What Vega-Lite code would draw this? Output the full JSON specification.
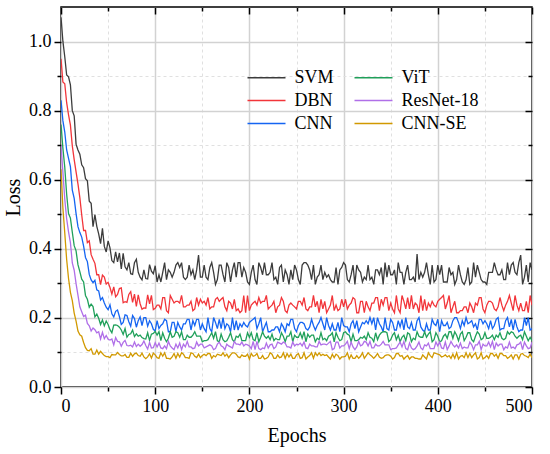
{
"$schema": "https://vega.github.io/schema/vega-lite/v6.json",
"width": 471, "height": 380,
"autosize": {"type": "none"},
"padding": {"left": 61, "top": 7, "right": 18, "bottom": 67},
"background": "white",
"config": {"font": "Liberation Serif", "view": {"stroke": "black", "strokeWidth": 1.5}},
"data": {"values": [
{"epoch":0,"SVM":1.07,"DBN":0.95,"CNN":0.83,"ViT":0.76,"ResNet-18":0.70,"CNN-SE":0.63},
{"epoch":2,"SVM":1.001,"DBN":0.883,"CNN":0.771,"ViT":0.692,"ResNet-18":0.623,"CNN-SE":0.519},
{"epoch":4,"SVM":0.956,"DBN":0.878,"CNN":0.738,"ViT":0.636,"ResNet-18":0.544,"CNN-SE":0.446},
{"epoch":6,"SVM":0.903,"DBN":0.823,"CNN":0.686,"ViT":0.558,"ResNet-18":0.487,"CNN-SE":0.369},
{"epoch":8,"SVM":0.898,"DBN":0.788,"CNN":0.662,"ViT":0.502,"ResNet-18":0.449,"CNN-SE":0.314},
{"epoch":10,"SVM":0.875,"DBN":0.758,"CNN":0.638,"ViT":0.489,"ResNet-18":0.418,"CNN-SE":0.274},
{"epoch":12,"SVM":0.80,"DBN":0.698,"CNN":0.57,"ViT":0.448,"ResNet-18":0.359,"CNN-SE":0.25},
{"epoch":14,"SVM":0.785,"DBN":0.658,"CNN":0.546,"ViT":0.409,"ResNet-18":0.338,"CNN-SE":0.214},
{"epoch":16,"SVM":0.703,"DBN":0.623,"CNN":0.502,"ViT":0.394,"ResNet-18":0.299,"CNN-SE":0.191},
{"epoch":18,"SVM":0.686,"DBN":0.588,"CNN":0.464,"ViT":0.354,"ResNet-18":0.266,"CNN-SE":0.162},
{"epoch":20,"SVM":0.674,"DBN":0.548,"CNN":0.447,"ViT":0.334,"ResNet-18":0.232,"CNN-SE":0.151},
{"epoch":22,"SVM":0.643,"DBN":0.498,"CNN":0.434,"ViT":0.312,"ResNet-18":0.218,"CNN-SE":0.147},
{"epoch":24,"SVM":0.635,"DBN":0.453,"CNN":0.408,"ViT":0.304,"ResNet-18":0.204,"CNN-SE":0.129},
{"epoch":26,"SVM":0.603,"DBN":0.453,"CNN":0.375,"ViT":0.265,"ResNet-18":0.208,"CNN-SE":0.114},
{"epoch":28,"SVM":0.597,"DBN":0.418,"CNN":0.363,"ViT":0.254,"ResNet-18":0.184,"CNN-SE":0.106},
{"epoch":30,"SVM":0.538,"DBN":0.423,"CNN":0.326,"ViT":0.231,"ResNet-18":0.177,"CNN-SE":0.105},
{"epoch":32,"SVM":0.532,"DBN":0.383,"CNN":0.31,"ViT":0.24,"ResNet-18":0.162,"CNN-SE":0.111},
{"epoch":34,"SVM":0.464,"DBN":0.37,"CNN":0.302,"ViT":0.233,"ResNet-18":0.171,"CNN-SE":0.095},
{"epoch":36,"SVM":0.499,"DBN":0.358,"CNN":0.309,"ViT":0.203,"ResNet-18":0.166,"CNN-SE":0.095},
{"epoch":38,"SVM":0.465,"DBN":0.325,"CNN":0.281,"ViT":0.211,"ResNet-18":0.157,"CNN-SE":0.107},
{"epoch":40,"SVM":0.443,"DBN":0.325,"CNN":0.278,"ViT":0.199,"ResNet-18":0.16,"CNN-SE":0.095},
{"epoch":42,"SVM":0.415,"DBN":0.296,"CNN":0.252,"ViT":0.181,"ResNet-18":0.139,"CNN-SE":0.103},
{"epoch":44,"SVM":0.459,"DBN":0.324,"CNN":0.259,"ViT":0.194,"ResNet-18":0.158,"CNN-SE":0.097},
{"epoch":46,"SVM":0.407,"DBN":0.318,"CNN":0.243,"ViT":0.177,"ResNet-18":0.14,"CNN-SE":0.091},
{"epoch":48,"SVM":0.391,"DBN":0.298,"CNN":0.231,"ViT":0.191,"ResNet-18":0.149,"CNN-SE":0.088},
{"epoch":50,"SVM":0.423,"DBN":0.303,"CNN":0.224,"ViT":0.181,"ResNet-18":0.138,"CNN-SE":0.088},
{"epoch":52,"SVM":0.403,"DBN":0.288,"CNN":0.238,"ViT":0.166,"ResNet-18":0.136,"CNN-SE":0.085},
{"epoch":54,"SVM":0.366,"DBN":0.269,"CNN":0.212,"ViT":0.157,"ResNet-18":0.139,"CNN-SE":0.094},
{"epoch":56,"SVM":0.36,"DBN":0.29,"CNN":0.203,"ViT":0.179,"ResNet-18":0.122,"CNN-SE":0.093},
{"epoch":58,"SVM":0.391,"DBN":0.261,"CNN":0.219,"ViT":0.18,"ResNet-18":0.143,"CNN-SE":0.093},
{"epoch":60,"SVM":0.362,"DBN":0.268,"CNN":0.223,"ViT":0.178,"ResNet-18":0.132,"CNN-SE":0.1},
{"epoch":62,"SVM":0.388,"DBN":0.285,"CNN":0.204,"ViT":0.173,"ResNet-18":0.131,"CNN-SE":0.094},
{"epoch":64,"SVM":0.342,"DBN":0.287,"CNN":0.181,"ViT":0.165,"ResNet-18":0.118,"CNN-SE":0.09},
{"epoch":66,"SVM":0.387,"DBN":0.244,"CNN":0.187,"ViT":0.152,"ResNet-18":0.129,"CNN-SE":0.09},
{"epoch":68,"SVM":0.348,"DBN":0.247,"CNN":0.209,"ViT":0.169,"ResNet-18":0.135,"CNN-SE":0.094},
{"epoch":70,"SVM":0.339,"DBN":0.245,"CNN":0.207,"ViT":0.144,"ResNet-18":0.12,"CNN-SE":0.086},
{"epoch":72,"SVM":0.36,"DBN":0.268,"CNN":0.189,"ViT":0.152,"ResNet-18":0.119,"CNN-SE":0.086},
{"epoch":74,"SVM":0.328,"DBN":0.276,"CNN":0.176,"ViT":0.154,"ResNet-18":0.121,"CNN-SE":0.098},
{"epoch":76,"SVM":0.326,"DBN":0.245,"CNN":0.207,"ViT":0.165,"ResNet-18":0.116,"CNN-SE":0.089},
{"epoch":78,"SVM":0.36,"DBN":0.269,"CNN":0.198,"ViT":0.146,"ResNet-18":0.13,"CNN-SE":0.096},
{"epoch":80,"SVM":0.37,"DBN":0.233,"CNN":0.173,"ViT":0.154,"ResNet-18":0.117,"CNN-SE":0.098},
{"epoch":82,"SVM":0.332,"DBN":0.267,"CNN":0.192,"ViT":0.147,"ResNet-18":0.124,"CNN-SE":0.091},
{"epoch":84,"SVM":0.318,"DBN":0.241,"CNN":0.203,"ViT":0.15,"ResNet-18":0.118,"CNN-SE":0.089},
{"epoch":86,"SVM":0.31,"DBN":0.225,"CNN":0.178,"ViT":0.143,"ResNet-18":0.123,"CNN-SE":0.098},
{"epoch":88,"SVM":0.339,"DBN":0.229,"CNN":0.201,"ViT":0.14,"ResNet-18":0.133,"CNN-SE":0.087},
{"epoch":90,"SVM":0.314,"DBN":0.228,"CNN":0.201,"ViT":0.139,"ResNet-18":0.12,"CNN-SE":0.082},
{"epoch":92,"SVM":0.313,"DBN":0.267,"CNN":0.176,"ViT":0.157,"ResNet-18":0.11,"CNN-SE":0.087},
{"epoch":94,"SVM":0.354,"DBN":0.241,"CNN":0.192,"ViT":0.135,"ResNet-18":0.129,"CNN-SE":0.096},
{"epoch":96,"SVM":0.335,"DBN":0.265,"CNN":0.183,"ViT":0.153,"ResNet-18":0.113,"CNN-SE":0.084},
{"epoch":98,"SVM":0.328,"DBN":0.224,"CNN":0.167,"ViT":0.155,"ResNet-18":0.114,"CNN-SE":0.098},
{"epoch":100,"SVM":0.351,"DBN":0.228,"CNN":0.162,"ViT":0.161,"ResNet-18":0.128,"CNN-SE":0.093},
{"epoch":102,"SVM":0.304,"DBN":0.237,"CNN":0.192,"ViT":0.15,"ResNet-18":0.116,"CNN-SE":0.085},
{"epoch":104,"SVM":0.325,"DBN":0.237,"CNN":0.169,"ViT":0.16,"ResNet-18":0.127,"CNN-SE":0.083},
{"epoch":106,"SVM":0.304,"DBN":0.226,"CNN":0.178,"ViT":0.134,"ResNet-18":0.113,"CNN-SE":0.099},
{"epoch":108,"SVM":0.332,"DBN":0.259,"CNN":0.183,"ViT":0.157,"ResNet-18":0.111,"CNN-SE":0.089},
{"epoch":110,"SVM":0.36,"DBN":0.259,"CNN":0.196,"ViT":0.141,"ResNet-18":0.119,"CNN-SE":0.099},
{"epoch":112,"SVM":0.311,"DBN":0.221,"CNN":0.192,"ViT":0.131,"ResNet-18":0.111,"CNN-SE":0.083},
{"epoch":114,"SVM":0.339,"DBN":0.215,"CNN":0.16,"ViT":0.141,"ResNet-18":0.132,"CNN-SE":0.083},
{"epoch":116,"SVM":0.332,"DBN":0.265,"CNN":0.16,"ViT":0.16,"ResNet-18":0.119,"CNN-SE":0.081},
{"epoch":118,"SVM":0.318,"DBN":0.254,"CNN":0.187,"ViT":0.144,"ResNet-18":0.113,"CNN-SE":0.087},
{"epoch":120,"SVM":0.332,"DBN":0.243,"CNN":0.187,"ViT":0.147,"ResNet-18":0.108,"CNN-SE":0.097},
{"epoch":122,"SVM":0.353,"DBN":0.248,"CNN":0.16,"ViT":0.16,"ResNet-18":0.124,"CNN-SE":0.083},
{"epoch":124,"SVM":0.36,"DBN":0.248,"CNN":0.187,"ViT":0.157,"ResNet-18":0.113,"CNN-SE":0.097},
{"epoch":126,"SVM":0.346,"DBN":0.243,"CNN":0.174,"ViT":0.144,"ResNet-18":0.127,"CNN-SE":0.087},
{"epoch":128,"SVM":0.36,"DBN":0.265,"CNN":0.165,"ViT":0.16,"ResNet-18":0.108,"CNN-SE":0.099},
{"epoch":130,"SVM":0.318,"DBN":0.232,"CNN":0.183,"ViT":0.137,"ResNet-18":0.124,"CNN-SE":0.095},
{"epoch":132,"SVM":0.311,"DBN":0.232,"CNN":0.183,"ViT":0.137,"ResNet-18":0.116,"CNN-SE":0.085},
{"epoch":134,"SVM":0.318,"DBN":0.237,"CNN":0.196,"ViT":0.15,"ResNet-18":0.132,"CNN-SE":0.085},
{"epoch":136,"SVM":0.353,"DBN":0.237,"CNN":0.196,"ViT":0.144,"ResNet-18":0.116,"CNN-SE":0.083},
{"epoch":138,"SVM":0.325,"DBN":0.248,"CNN":0.165,"ViT":0.144,"ResNet-18":0.116,"CNN-SE":0.099},
{"epoch":140,"SVM":0.339,"DBN":0.221,"CNN":0.192,"ViT":0.15,"ResNet-18":0.111,"CNN-SE":0.097},
{"epoch":142,"SVM":0.311,"DBN":0.226,"CNN":0.178,"ViT":0.16,"ResNet-18":0.113,"CNN-SE":0.089},
{"epoch":144,"SVM":0.339,"DBN":0.259,"CNN":0.196,"ViT":0.147,"ResNet-18":0.13,"CNN-SE":0.085},
{"epoch":146,"SVM":0.382,"DBN":0.237,"CNN":0.196,"ViT":0.147,"ResNet-18":0.119,"CNN-SE":0.095},
{"epoch":148,"SVM":0.318,"DBN":0.254,"CNN":0.165,"ViT":0.147,"ResNet-18":0.124,"CNN-SE":0.085},
{"epoch":150,"SVM":0.318,"DBN":0.243,"CNN":0.183,"ViT":0.131,"ResNet-18":0.124,"CNN-SE":0.091},
{"epoch":152,"SVM":0.353,"DBN":0.248,"CNN":0.169,"ViT":0.134,"ResNet-18":0.113,"CNN-SE":0.095},
{"epoch":154,"SVM":0.318,"DBN":0.237,"CNN":0.16,"ViT":0.134,"ResNet-18":0.116,"CNN-SE":0.091},
{"epoch":156,"SVM":0.311,"DBN":0.259,"CNN":0.201,"ViT":0.137,"ResNet-18":0.119,"CNN-SE":0.097},
{"epoch":158,"SVM":0.346,"DBN":0.226,"CNN":0.169,"ViT":0.147,"ResNet-18":0.122,"CNN-SE":0.097},
{"epoch":160,"SVM":0.36,"DBN":0.232,"CNN":0.16,"ViT":0.157,"ResNet-18":0.119,"CNN-SE":0.083},
{"epoch":162,"SVM":0.332,"DBN":0.232,"CNN":0.201,"ViT":0.141,"ResNet-18":0.108,"CNN-SE":0.091},
{"epoch":164,"SVM":0.297,"DBN":0.254,"CNN":0.187,"ViT":0.16,"ResNet-18":0.111,"CNN-SE":0.087},
{"epoch":166,"SVM":0.311,"DBN":0.259,"CNN":0.169,"ViT":0.134,"ResNet-18":0.124,"CNN-SE":0.095},
{"epoch":168,"SVM":0.353,"DBN":0.248,"CNN":0.196,"ViT":0.131,"ResNet-18":0.13,"CNN-SE":0.093},
{"epoch":170,"SVM":0.353,"DBN":0.254,"CNN":0.169,"ViT":0.153,"ResNet-18":0.119,"CNN-SE":0.091},
{"epoch":172,"SVM":0.325,"DBN":0.259,"CNN":0.201,"ViT":0.137,"ResNet-18":0.116,"CNN-SE":0.099},
{"epoch":174,"SVM":0.304,"DBN":0.232,"CNN":0.169,"ViT":0.131,"ResNet-18":0.108,"CNN-SE":0.089},
{"epoch":176,"SVM":0.36,"DBN":0.221,"CNN":0.183,"ViT":0.134,"ResNet-18":0.124,"CNN-SE":0.095},
{"epoch":178,"SVM":0.346,"DBN":0.248,"CNN":0.178,"ViT":0.144,"ResNet-18":0.119,"CNN-SE":0.085},
{"epoch":180,"SVM":0.304,"DBN":0.243,"CNN":0.16,"ViT":0.157,"ResNet-18":0.116,"CNN-SE":0.093},
{"epoch":182,"SVM":0.339,"DBN":0.226,"CNN":0.201,"ViT":0.137,"ResNet-18":0.113,"CNN-SE":0.099},
{"epoch":184,"SVM":0.36,"DBN":0.254,"CNN":0.165,"ViT":0.131,"ResNet-18":0.132,"CNN-SE":0.099},
{"epoch":186,"SVM":0.318,"DBN":0.221,"CNN":0.192,"ViT":0.147,"ResNet-18":0.124,"CNN-SE":0.095},
{"epoch":188,"SVM":0.36,"DBN":0.226,"CNN":0.165,"ViT":0.144,"ResNet-18":0.124,"CNN-SE":0.087},
{"epoch":190,"SVM":0.36,"DBN":0.215,"CNN":0.183,"ViT":0.153,"ResNet-18":0.122,"CNN-SE":0.085},
{"epoch":192,"SVM":0.318,"DBN":0.221,"CNN":0.174,"ViT":0.134,"ResNet-18":0.13,"CNN-SE":0.093},
{"epoch":194,"SVM":0.346,"DBN":0.265,"CNN":0.187,"ViT":0.134,"ResNet-18":0.119,"CNN-SE":0.089},
{"epoch":196,"SVM":0.332,"DBN":0.215,"CNN":0.178,"ViT":0.134,"ResNet-18":0.124,"CNN-SE":0.089},
{"epoch":198,"SVM":0.304,"DBN":0.265,"CNN":0.174,"ViT":0.157,"ResNet-18":0.122,"CNN-SE":0.095},
{"epoch":200,"SVM":0.297,"DBN":0.221,"CNN":0.187,"ViT":0.144,"ResNet-18":0.119,"CNN-SE":0.081},
{"epoch":202,"SVM":0.332,"DBN":0.237,"CNN":0.192,"ViT":0.157,"ResNet-18":0.111,"CNN-SE":0.097},
{"epoch":204,"SVM":0.353,"DBN":0.243,"CNN":0.196,"ViT":0.137,"ResNet-18":0.132,"CNN-SE":0.089},
{"epoch":206,"SVM":0.311,"DBN":0.248,"CNN":0.201,"ViT":0.134,"ResNet-18":0.108,"CNN-SE":0.091},
{"epoch":208,"SVM":0.297,"DBN":0.237,"CNN":0.169,"ViT":0.157,"ResNet-18":0.132,"CNN-SE":0.097},
{"epoch":210,"SVM":0.36,"DBN":0.259,"CNN":0.183,"ViT":0.131,"ResNet-18":0.111,"CNN-SE":0.083},
{"epoch":212,"SVM":0.346,"DBN":0.243,"CNN":0.201,"ViT":0.144,"ResNet-18":0.108,"CNN-SE":0.083},
{"epoch":214,"SVM":0.325,"DBN":0.248,"CNN":0.16,"ViT":0.16,"ResNet-18":0.113,"CNN-SE":0.091},
{"epoch":216,"SVM":0.36,"DBN":0.248,"CNN":0.174,"ViT":0.147,"ResNet-18":0.111,"CNN-SE":0.081},
{"epoch":218,"SVM":0.325,"DBN":0.265,"CNN":0.187,"ViT":0.141,"ResNet-18":0.127,"CNN-SE":0.083},
{"epoch":220,"SVM":0.325,"DBN":0.226,"CNN":0.16,"ViT":0.147,"ResNet-18":0.113,"CNN-SE":0.087},
{"epoch":222,"SVM":0.332,"DBN":0.232,"CNN":0.16,"ViT":0.137,"ResNet-18":0.122,"CNN-SE":0.099},
{"epoch":224,"SVM":0.36,"DBN":0.237,"CNN":0.165,"ViT":0.153,"ResNet-18":0.124,"CNN-SE":0.095},
{"epoch":226,"SVM":0.311,"DBN":0.248,"CNN":0.165,"ViT":0.134,"ResNet-18":0.111,"CNN-SE":0.083},
{"epoch":228,"SVM":0.318,"DBN":0.215,"CNN":0.174,"ViT":0.141,"ResNet-18":0.116,"CNN-SE":0.083},
{"epoch":230,"SVM":0.297,"DBN":0.232,"CNN":0.174,"ViT":0.137,"ResNet-18":0.13,"CNN-SE":0.093},
{"epoch":232,"SVM":0.346,"DBN":0.237,"CNN":0.16,"ViT":0.137,"ResNet-18":0.127,"CNN-SE":0.085},
{"epoch":234,"SVM":0.353,"DBN":0.259,"CNN":0.183,"ViT":0.157,"ResNet-18":0.124,"CNN-SE":0.087},
{"epoch":236,"SVM":0.304,"DBN":0.248,"CNN":0.174,"ViT":0.147,"ResNet-18":0.13,"CNN-SE":0.099},
{"epoch":238,"SVM":0.339,"DBN":0.221,"CNN":0.16,"ViT":0.131,"ResNet-18":0.127,"CNN-SE":0.083},
{"epoch":240,"SVM":0.325,"DBN":0.215,"CNN":0.183,"ViT":0.147,"ResNet-18":0.116,"CNN-SE":0.097},
{"epoch":242,"SVM":0.297,"DBN":0.237,"CNN":0.178,"ViT":0.147,"ResNet-18":0.116,"CNN-SE":0.087},
{"epoch":244,"SVM":0.339,"DBN":0.243,"CNN":0.196,"ViT":0.16,"ResNet-18":0.113,"CNN-SE":0.095},
{"epoch":246,"SVM":0.311,"DBN":0.237,"CNN":0.196,"ViT":0.131,"ResNet-18":0.13,"CNN-SE":0.083},
{"epoch":248,"SVM":0.353,"DBN":0.232,"CNN":0.169,"ViT":0.15,"ResNet-18":0.119,"CNN-SE":0.083},
{"epoch":250,"SVM":0.339,"DBN":0.226,"CNN":0.16,"ViT":0.144,"ResNet-18":0.124,"CNN-SE":0.093},
{"epoch":252,"SVM":0.311,"DBN":0.248,"CNN":0.178,"ViT":0.144,"ResNet-18":0.122,"CNN-SE":0.097},
{"epoch":254,"SVM":0.297,"DBN":0.248,"CNN":0.187,"ViT":0.157,"ResNet-18":0.127,"CNN-SE":0.083},
{"epoch":256,"SVM":0.353,"DBN":0.237,"CNN":0.187,"ViT":0.141,"ResNet-18":0.119,"CNN-SE":0.085},
{"epoch":258,"SVM":0.36,"DBN":0.259,"CNN":0.183,"ViT":0.16,"ResNet-18":0.13,"CNN-SE":0.099},
{"epoch":260,"SVM":0.36,"DBN":0.226,"CNN":0.169,"ViT":0.131,"ResNet-18":0.113,"CNN-SE":0.081},
{"epoch":262,"SVM":0.353,"DBN":0.221,"CNN":0.165,"ViT":0.153,"ResNet-18":0.111,"CNN-SE":0.087},
{"epoch":264,"SVM":0.339,"DBN":0.232,"CNN":0.174,"ViT":0.144,"ResNet-18":0.124,"CNN-SE":0.091},
{"epoch":266,"SVM":0.311,"DBN":0.232,"CNN":0.196,"ViT":0.15,"ResNet-18":0.119,"CNN-SE":0.099},
{"epoch":268,"SVM":0.353,"DBN":0.265,"CNN":0.178,"ViT":0.15,"ResNet-18":0.119,"CNN-SE":0.083},
{"epoch":270,"SVM":0.297,"DBN":0.232,"CNN":0.165,"ViT":0.131,"ResNet-18":0.116,"CNN-SE":0.099},
{"epoch":272,"SVM":0.318,"DBN":0.248,"CNN":0.178,"ViT":0.141,"ResNet-18":0.116,"CNN-SE":0.091},
{"epoch":274,"SVM":0.325,"DBN":0.215,"CNN":0.187,"ViT":0.137,"ResNet-18":0.132,"CNN-SE":0.099},
{"epoch":276,"SVM":0.353,"DBN":0.254,"CNN":0.201,"ViT":0.157,"ResNet-18":0.122,"CNN-SE":0.091},
{"epoch":278,"SVM":0.311,"DBN":0.226,"CNN":0.183,"ViT":0.137,"ResNet-18":0.124,"CNN-SE":0.095},
{"epoch":280,"SVM":0.332,"DBN":0.248,"CNN":0.165,"ViT":0.141,"ResNet-18":0.124,"CNN-SE":0.091},
{"epoch":282,"SVM":0.318,"DBN":0.215,"CNN":0.201,"ViT":0.134,"ResNet-18":0.122,"CNN-SE":0.093},
{"epoch":284,"SVM":0.325,"DBN":0.226,"CNN":0.178,"ViT":0.147,"ResNet-18":0.127,"CNN-SE":0.087},
{"epoch":286,"SVM":0.311,"DBN":0.237,"CNN":0.165,"ViT":0.15,"ResNet-18":0.132,"CNN-SE":0.081},
{"epoch":288,"SVM":0.304,"DBN":0.265,"CNN":0.183,"ViT":0.157,"ResNet-18":0.108,"CNN-SE":0.095},
{"epoch":290,"SVM":0.304,"DBN":0.221,"CNN":0.165,"ViT":0.131,"ResNet-18":0.111,"CNN-SE":0.085},
{"epoch":292,"SVM":0.346,"DBN":0.237,"CNN":0.165,"ViT":0.157,"ResNet-18":0.13,"CNN-SE":0.095},
{"epoch":294,"SVM":0.297,"DBN":0.221,"CNN":0.187,"ViT":0.144,"ResNet-18":0.13,"CNN-SE":0.091},
{"epoch":296,"SVM":0.339,"DBN":0.226,"CNN":0.16,"ViT":0.134,"ResNet-18":0.113,"CNN-SE":0.081},
{"epoch":298,"SVM":0.346,"DBN":0.254,"CNN":0.201,"ViT":0.137,"ResNet-18":0.119,"CNN-SE":0.087},
{"epoch":300,"SVM":0.36,"DBN":0.232,"CNN":0.178,"ViT":0.157,"ResNet-18":0.119,"CNN-SE":0.087},
{"epoch":302,"SVM":0.353,"DBN":0.254,"CNN":0.174,"ViT":0.16,"ResNet-18":0.124,"CNN-SE":0.089},
{"epoch":304,"SVM":0.311,"DBN":0.226,"CNN":0.174,"ViT":0.153,"ResNet-18":0.132,"CNN-SE":0.099},
{"epoch":306,"SVM":0.304,"DBN":0.237,"CNN":0.16,"ViT":0.15,"ResNet-18":0.111,"CNN-SE":0.081},
{"epoch":308,"SVM":0.325,"DBN":0.243,"CNN":0.183,"ViT":0.131,"ResNet-18":0.13,"CNN-SE":0.093},
{"epoch":310,"SVM":0.353,"DBN":0.259,"CNN":0.192,"ViT":0.153,"ResNet-18":0.116,"CNN-SE":0.083},
{"epoch":312,"SVM":0.297,"DBN":0.254,"CNN":0.169,"ViT":0.134,"ResNet-18":0.108,"CNN-SE":0.083},
{"epoch":314,"SVM":0.353,"DBN":0.215,"CNN":0.192,"ViT":0.134,"ResNet-18":0.116,"CNN-SE":0.091},
{"epoch":316,"SVM":0.339,"DBN":0.215,"CNN":0.16,"ViT":0.137,"ResNet-18":0.132,"CNN-SE":0.083},
{"epoch":318,"SVM":0.332,"DBN":0.248,"CNN":0.174,"ViT":0.144,"ResNet-18":0.119,"CNN-SE":0.089},
{"epoch":320,"SVM":0.304,"DBN":0.248,"CNN":0.187,"ViT":0.141,"ResNet-18":0.122,"CNN-SE":0.099},
{"epoch":322,"SVM":0.318,"DBN":0.215,"CNN":0.183,"ViT":0.147,"ResNet-18":0.132,"CNN-SE":0.083},
{"epoch":324,"SVM":0.311,"DBN":0.248,"CNN":0.192,"ViT":0.137,"ResNet-18":0.13,"CNN-SE":0.091},
{"epoch":326,"SVM":0.353,"DBN":0.232,"CNN":0.183,"ViT":0.157,"ResNet-18":0.119,"CNN-SE":0.099},
{"epoch":328,"SVM":0.311,"DBN":0.221,"CNN":0.201,"ViT":0.144,"ResNet-18":0.132,"CNN-SE":0.093},
{"epoch":330,"SVM":0.318,"DBN":0.243,"CNN":0.183,"ViT":0.141,"ResNet-18":0.113,"CNN-SE":0.089},
{"epoch":332,"SVM":0.297,"DBN":0.243,"CNN":0.201,"ViT":0.131,"ResNet-18":0.113,"CNN-SE":0.083},
{"epoch":334,"SVM":0.339,"DBN":0.259,"CNN":0.165,"ViT":0.157,"ResNet-18":0.124,"CNN-SE":0.089},
{"epoch":336,"SVM":0.339,"DBN":0.259,"CNN":0.201,"ViT":0.137,"ResNet-18":0.119,"CNN-SE":0.097},
{"epoch":338,"SVM":0.325,"DBN":0.221,"CNN":0.183,"ViT":0.15,"ResNet-18":0.119,"CNN-SE":0.087},
{"epoch":340,"SVM":0.346,"DBN":0.254,"CNN":0.174,"ViT":0.157,"ResNet-18":0.124,"CNN-SE":0.083},
{"epoch":342,"SVM":0.297,"DBN":0.237,"CNN":0.16,"ViT":0.16,"ResNet-18":0.132,"CNN-SE":0.085},
{"epoch":344,"SVM":0.36,"DBN":0.259,"CNN":0.201,"ViT":0.16,"ResNet-18":0.122,"CNN-SE":0.091},
{"epoch":346,"SVM":0.318,"DBN":0.259,"CNN":0.169,"ViT":0.157,"ResNet-18":0.122,"CNN-SE":0.093},
{"epoch":348,"SVM":0.353,"DBN":0.221,"CNN":0.165,"ViT":0.131,"ResNet-18":0.122,"CNN-SE":0.093},
{"epoch":350,"SVM":0.325,"DBN":0.243,"CNN":0.196,"ViT":0.137,"ResNet-18":0.108,"CNN-SE":0.089},
{"epoch":352,"SVM":0.325,"DBN":0.226,"CNN":0.187,"ViT":0.15,"ResNet-18":0.111,"CNN-SE":0.081},
{"epoch":354,"SVM":0.339,"DBN":0.215,"CNN":0.165,"ViT":0.157,"ResNet-18":0.111,"CNN-SE":0.085},
{"epoch":356,"SVM":0.297,"DBN":0.265,"CNN":0.165,"ViT":0.137,"ResNet-18":0.113,"CNN-SE":0.097},
{"epoch":358,"SVM":0.36,"DBN":0.226,"CNN":0.192,"ViT":0.15,"ResNet-18":0.122,"CNN-SE":0.097},
{"epoch":360,"SVM":0.332,"DBN":0.215,"CNN":0.174,"ViT":0.131,"ResNet-18":0.13,"CNN-SE":0.089},
{"epoch":362,"SVM":0.332,"DBN":0.265,"CNN":0.196,"ViT":0.144,"ResNet-18":0.116,"CNN-SE":0.091},
{"epoch":364,"SVM":0.297,"DBN":0.248,"CNN":0.165,"ViT":0.15,"ResNet-18":0.132,"CNN-SE":0.081},
{"epoch":366,"SVM":0.332,"DBN":0.226,"CNN":0.201,"ViT":0.134,"ResNet-18":0.111,"CNN-SE":0.087},
{"epoch":368,"SVM":0.353,"DBN":0.259,"CNN":0.174,"ViT":0.157,"ResNet-18":0.108,"CNN-SE":0.091},
{"epoch":370,"SVM":0.311,"DBN":0.226,"CNN":0.169,"ViT":0.153,"ResNet-18":0.127,"CNN-SE":0.081},
{"epoch":372,"SVM":0.311,"DBN":0.265,"CNN":0.187,"ViT":0.131,"ResNet-18":0.113,"CNN-SE":0.087},
{"epoch":374,"SVM":0.318,"DBN":0.226,"CNN":0.165,"ViT":0.141,"ResNet-18":0.108,"CNN-SE":0.087},
{"epoch":376,"SVM":0.304,"DBN":0.243,"CNN":0.165,"ViT":0.137,"ResNet-18":0.111,"CNN-SE":0.083},
{"epoch":378,"SVM":0.385,"DBN":0.237,"CNN":0.192,"ViT":0.16,"ResNet-18":0.119,"CNN-SE":0.083},
{"epoch":380,"SVM":0.311,"DBN":0.215,"CNN":0.201,"ViT":0.147,"ResNet-18":0.13,"CNN-SE":0.081},
{"epoch":382,"SVM":0.332,"DBN":0.265,"CNN":0.174,"ViT":0.144,"ResNet-18":0.113,"CNN-SE":0.081},
{"epoch":384,"SVM":0.318,"DBN":0.221,"CNN":0.165,"ViT":0.144,"ResNet-18":0.108,"CNN-SE":0.093},
{"epoch":386,"SVM":0.332,"DBN":0.254,"CNN":0.16,"ViT":0.16,"ResNet-18":0.122,"CNN-SE":0.087},
{"epoch":388,"SVM":0.36,"DBN":0.221,"CNN":0.183,"ViT":0.144,"ResNet-18":0.119,"CNN-SE":0.081},
{"epoch":390,"SVM":0.325,"DBN":0.243,"CNN":0.165,"ViT":0.153,"ResNet-18":0.127,"CNN-SE":0.099},
{"epoch":392,"SVM":0.297,"DBN":0.232,"CNN":0.165,"ViT":0.16,"ResNet-18":0.111,"CNN-SE":0.091},
{"epoch":394,"SVM":0.353,"DBN":0.248,"CNN":0.196,"ViT":0.131,"ResNet-18":0.111,"CNN-SE":0.085},
{"epoch":396,"SVM":0.304,"DBN":0.237,"CNN":0.183,"ViT":0.137,"ResNet-18":0.111,"CNN-SE":0.099},
{"epoch":398,"SVM":0.311,"DBN":0.232,"CNN":0.178,"ViT":0.157,"ResNet-18":0.13,"CNN-SE":0.097},
{"epoch":400,"SVM":0.353,"DBN":0.248,"CNN":0.196,"ViT":0.147,"ResNet-18":0.119,"CNN-SE":0.095},
{"epoch":402,"SVM":0.325,"DBN":0.254,"CNN":0.16,"ViT":0.131,"ResNet-18":0.13,"CNN-SE":0.093},
{"epoch":404,"SVM":0.353,"DBN":0.259,"CNN":0.192,"ViT":0.134,"ResNet-18":0.113,"CNN-SE":0.087},
{"epoch":406,"SVM":0.304,"DBN":0.265,"CNN":0.178,"ViT":0.147,"ResNet-18":0.111,"CNN-SE":0.089},
{"epoch":408,"SVM":0.304,"DBN":0.226,"CNN":0.178,"ViT":0.153,"ResNet-18":0.13,"CNN-SE":0.093},
{"epoch":410,"SVM":0.304,"DBN":0.243,"CNN":0.187,"ViT":0.141,"ResNet-18":0.108,"CNN-SE":0.087},
{"epoch":412,"SVM":0.346,"DBN":0.265,"CNN":0.169,"ViT":0.16,"ResNet-18":0.119,"CNN-SE":0.091},
{"epoch":414,"SVM":0.325,"DBN":0.215,"CNN":0.174,"ViT":0.16,"ResNet-18":0.132,"CNN-SE":0.083},
{"epoch":416,"SVM":0.332,"DBN":0.232,"CNN":0.192,"ViT":0.141,"ResNet-18":0.122,"CNN-SE":0.095},
{"epoch":418,"SVM":0.297,"DBN":0.248,"CNN":0.201,"ViT":0.16,"ResNet-18":0.116,"CNN-SE":0.083},
{"epoch":420,"SVM":0.311,"DBN":0.215,"CNN":0.201,"ViT":0.15,"ResNet-18":0.122,"CNN-SE":0.099},
{"epoch":422,"SVM":0.353,"DBN":0.215,"CNN":0.187,"ViT":0.134,"ResNet-18":0.113,"CNN-SE":0.081},
{"epoch":424,"SVM":0.325,"DBN":0.221,"CNN":0.169,"ViT":0.153,"ResNet-18":0.127,"CNN-SE":0.089},
{"epoch":426,"SVM":0.304,"DBN":0.221,"CNN":0.192,"ViT":0.16,"ResNet-18":0.111,"CNN-SE":0.091},
{"epoch":428,"SVM":0.297,"DBN":0.232,"CNN":0.178,"ViT":0.134,"ResNet-18":0.116,"CNN-SE":0.085},
{"epoch":430,"SVM":0.311,"DBN":0.232,"CNN":0.201,"ViT":0.144,"ResNet-18":0.113,"CNN-SE":0.099},
{"epoch":432,"SVM":0.346,"DBN":0.215,"CNN":0.183,"ViT":0.157,"ResNet-18":0.113,"CNN-SE":0.085},
{"epoch":434,"SVM":0.297,"DBN":0.243,"CNN":0.187,"ViT":0.157,"ResNet-18":0.13,"CNN-SE":0.097},
{"epoch":436,"SVM":0.304,"DBN":0.232,"CNN":0.192,"ViT":0.137,"ResNet-18":0.122,"CNN-SE":0.085},
{"epoch":438,"SVM":0.36,"DBN":0.215,"CNN":0.174,"ViT":0.131,"ResNet-18":0.108,"CNN-SE":0.093},
{"epoch":440,"SVM":0.318,"DBN":0.243,"CNN":0.183,"ViT":0.147,"ResNet-18":0.122,"CNN-SE":0.099},
{"epoch":442,"SVM":0.353,"DBN":0.237,"CNN":0.165,"ViT":0.16,"ResNet-18":0.122,"CNN-SE":0.081},
{"epoch":444,"SVM":0.332,"DBN":0.259,"CNN":0.196,"ViT":0.153,"ResNet-18":0.132,"CNN-SE":0.085},
{"epoch":446,"SVM":0.311,"DBN":0.259,"CNN":0.196,"ViT":0.137,"ResNet-18":0.108,"CNN-SE":0.099},
{"epoch":448,"SVM":0.304,"DBN":0.226,"CNN":0.183,"ViT":0.141,"ResNet-18":0.124,"CNN-SE":0.081},
{"epoch":450,"SVM":0.304,"DBN":0.215,"CNN":0.192,"ViT":0.157,"ResNet-18":0.119,"CNN-SE":0.085},
{"epoch":452,"SVM":0.297,"DBN":0.237,"CNN":0.183,"ViT":0.141,"ResNet-18":0.119,"CNN-SE":0.091},
{"epoch":454,"SVM":0.332,"DBN":0.248,"CNN":0.169,"ViT":0.141,"ResNet-18":0.13,"CNN-SE":0.083},
{"epoch":456,"SVM":0.332,"DBN":0.248,"CNN":0.192,"ViT":0.144,"ResNet-18":0.116,"CNN-SE":0.097},
{"epoch":458,"SVM":0.332,"DBN":0.243,"CNN":0.169,"ViT":0.15,"ResNet-18":0.132,"CNN-SE":0.097},
{"epoch":460,"SVM":0.36,"DBN":0.226,"CNN":0.178,"ViT":0.137,"ResNet-18":0.108,"CNN-SE":0.089},
{"epoch":462,"SVM":0.339,"DBN":0.221,"CNN":0.196,"ViT":0.15,"ResNet-18":0.127,"CNN-SE":0.095},
{"epoch":464,"SVM":0.325,"DBN":0.232,"CNN":0.201,"ViT":0.144,"ResNet-18":0.119,"CNN-SE":0.083},
{"epoch":466,"SVM":0.325,"DBN":0.259,"CNN":0.165,"ViT":0.157,"ResNet-18":0.124,"CNN-SE":0.097},
{"epoch":468,"SVM":0.339,"DBN":0.237,"CNN":0.169,"ViT":0.141,"ResNet-18":0.124,"CNN-SE":0.097},
{"epoch":470,"SVM":0.311,"DBN":0.221,"CNN":0.169,"ViT":0.137,"ResNet-18":0.108,"CNN-SE":0.091},
{"epoch":472,"SVM":0.311,"DBN":0.237,"CNN":0.192,"ViT":0.141,"ResNet-18":0.116,"CNN-SE":0.091},
{"epoch":474,"SVM":0.36,"DBN":0.248,"CNN":0.201,"ViT":0.16,"ResNet-18":0.113,"CNN-SE":0.083},
{"epoch":476,"SVM":0.325,"DBN":0.265,"CNN":0.174,"ViT":0.153,"ResNet-18":0.13,"CNN-SE":0.087},
{"epoch":478,"SVM":0.353,"DBN":0.243,"CNN":0.196,"ViT":0.16,"ResNet-18":0.113,"CNN-SE":0.093},
{"epoch":480,"SVM":0.36,"DBN":0.221,"CNN":0.165,"ViT":0.157,"ResNet-18":0.116,"CNN-SE":0.081},
{"epoch":482,"SVM":0.332,"DBN":0.265,"CNN":0.196,"ViT":0.147,"ResNet-18":0.111,"CNN-SE":0.093},
{"epoch":484,"SVM":0.325,"DBN":0.237,"CNN":0.174,"ViT":0.141,"ResNet-18":0.122,"CNN-SE":0.093},
{"epoch":486,"SVM":0.36,"DBN":0.221,"CNN":0.16,"ViT":0.147,"ResNet-18":0.124,"CNN-SE":0.081},
{"epoch":488,"SVM":0.382,"DBN":0.243,"CNN":0.165,"ViT":0.15,"ResNet-18":0.13,"CNN-SE":0.095},
{"epoch":490,"SVM":0.297,"DBN":0.221,"CNN":0.165,"ViT":0.137,"ResNet-18":0.108,"CNN-SE":0.097},
{"epoch":492,"SVM":0.318,"DBN":0.221,"CNN":0.201,"ViT":0.16,"ResNet-18":0.13,"CNN-SE":0.091},
{"epoch":494,"SVM":0.353,"DBN":0.248,"CNN":0.178,"ViT":0.147,"ResNet-18":0.119,"CNN-SE":0.089},
{"epoch":496,"SVM":0.304,"DBN":0.215,"CNN":0.201,"ViT":0.134,"ResNet-18":0.111,"CNN-SE":0.085},
{"epoch":498,"SVM":0.36,"DBN":0.265,"CNN":0.165,"ViT":0.144,"ResNet-18":0.113,"CNN-SE":0.095},
{"epoch":500,"SVM":0.339,"DBN":0.237,"CNN":0.169,"ViT":0.134,"ResNet-18":0.13,"CNN-SE":0.085}
]},
"transform": [{"fold": ["SVM","DBN","CNN","ViT","ResNet-18","CNN-SE"], "as": ["model","loss"]}],
"layer": [
{
"mark": {"type": "line", "strokeWidth": 1.3, "clip": true},
"encoding": {
"x": {"field": "epoch", "type": "quantitative", "title": "Epochs",
 "scale": {"domain": [0, 500], "nice": false},
 "axis": {"values": [0,50,100,150,200,250,300,350,400,450,500], "format": "d",
  "labelExpr": "datum.value % 100 === 0 ? datum.label : ''",
  "grid": true,
  "gridColor": {"condition": {"test": "datum.value % 100 !== 0", "value": "#e0e0e0"}, "value": "#d2d2d2"},
  "gridDash": {"condition": {"test": "datum.value % 100 !== 0", "value": [3,3]}, "value": []},
  "gridWidth": {"condition": {"test": "datum.value % 100 !== 0", "value": 1}, "value": 1.5},
  "domain": false, "tickColor": "black", "tickWidth": 1.5,
  "tickSize": {"condition": {"test": "datum.value % 100 !== 0", "value": 4}, "value": 7},
  "labelFont": "Liberation Serif", "labelFontSize": 18, "labelColor": "black", "labelPadding": 3,
  "titleFont": "Liberation Serif", "titleFontSize": 20, "titleFontWeight": "normal", "titleColor": "black", "titlePadding": 10}},
"y": {"field": "loss", "type": "quantitative", "title": "Loss",
 "scale": {"domain": [0, 1.1], "nice": false},
 "axis": {"values": [0,0.1,0.2,0.3,0.4,0.5,0.6,0.7,0.8,0.9,1.0], "format": ".1f",
  "labelExpr": "round(datum.value*10) % 2 === 0 ? datum.label : ''",
  "grid": true,
  "gridColor": {"condition": {"test": "round(datum.value*10) % 2 !== 0", "value": "#e0e0e0"}, "value": "#d2d2d2"},
  "gridDash": {"condition": {"test": "round(datum.value*10) % 2 !== 0", "value": [3,3]}, "value": []},
  "gridWidth": {"condition": {"test": "round(datum.value*10) % 2 !== 0", "value": 1}, "value": 1.5},
  "domain": false, "tickColor": "black", "tickWidth": 1.5,
  "tickSize": {"condition": {"test": "round(datum.value*10) % 2 !== 0", "value": 4}, "value": 7},
  "labelFont": "Liberation Serif", "labelFontSize": 18, "labelColor": "black", "labelPadding": 3,
  "titleFont": "Liberation Serif", "titleFontSize": 20, "titleFontWeight": "normal", "titleColor": "black", "titlePadding": 5}},
"color": {"field": "model", "type": "nominal",
 "scale": {"domain": ["SVM","DBN","CNN","ViT","ResNet-18","CNN-SE"],
  "range": ["#3c3c3c","#f2353a","#1565f2","#20a05a","#b06fe8","#d19900"]},
 "legend": {"orient": "none", "legendX": 195, "legendY": 60, "columns": 2, "title": null,
  "symbolType": "M-2,0H2", "symbolSize": 361, "symbolStrokeWidth": 1.5,
  "labelFont": "Liberation Serif", "labelFontSize": 18, "labelColor": "black", "labelOffset": 17.5,
  "rowPadding": 3, "columnPadding": 17, "padding": 0}}
}
},
{
"mark": {"type": "point", "opacity": 0},
"encoding": {
"x": {"field": "epoch", "type": "quantitative",
 "scale": {"domain": [0, 500], "nice": false},
 "axis": {"orient": "top", "title": null, "values": [0,50,100,150,200,250,300,350,400,450,500],
  "labels": false, "grid": false, "domain": false, "tickColor": "black", "tickWidth": 1.5,
  "tickSize": {"condition": {"test": "datum.value % 100 !== 0", "value": -4}, "value": -7}}},
"y": {"field": "loss", "type": "quantitative",
 "scale": {"domain": [0, 1.1], "nice": false},
 "axis": {"orient": "right", "title": null, "values": [0,0.1,0.2,0.3,0.4,0.5,0.6,0.7,0.8,0.9,1.0],
  "labels": false, "grid": false, "domain": false, "tickColor": "black", "tickWidth": 1.5,
  "tickSize": {"condition": {"test": "round(datum.value*10) % 2 !== 0", "value": -4}, "value": -7}}}
}
}
],
"resolve": {"scale": {"x": "independent", "y": "independent"}}
}
